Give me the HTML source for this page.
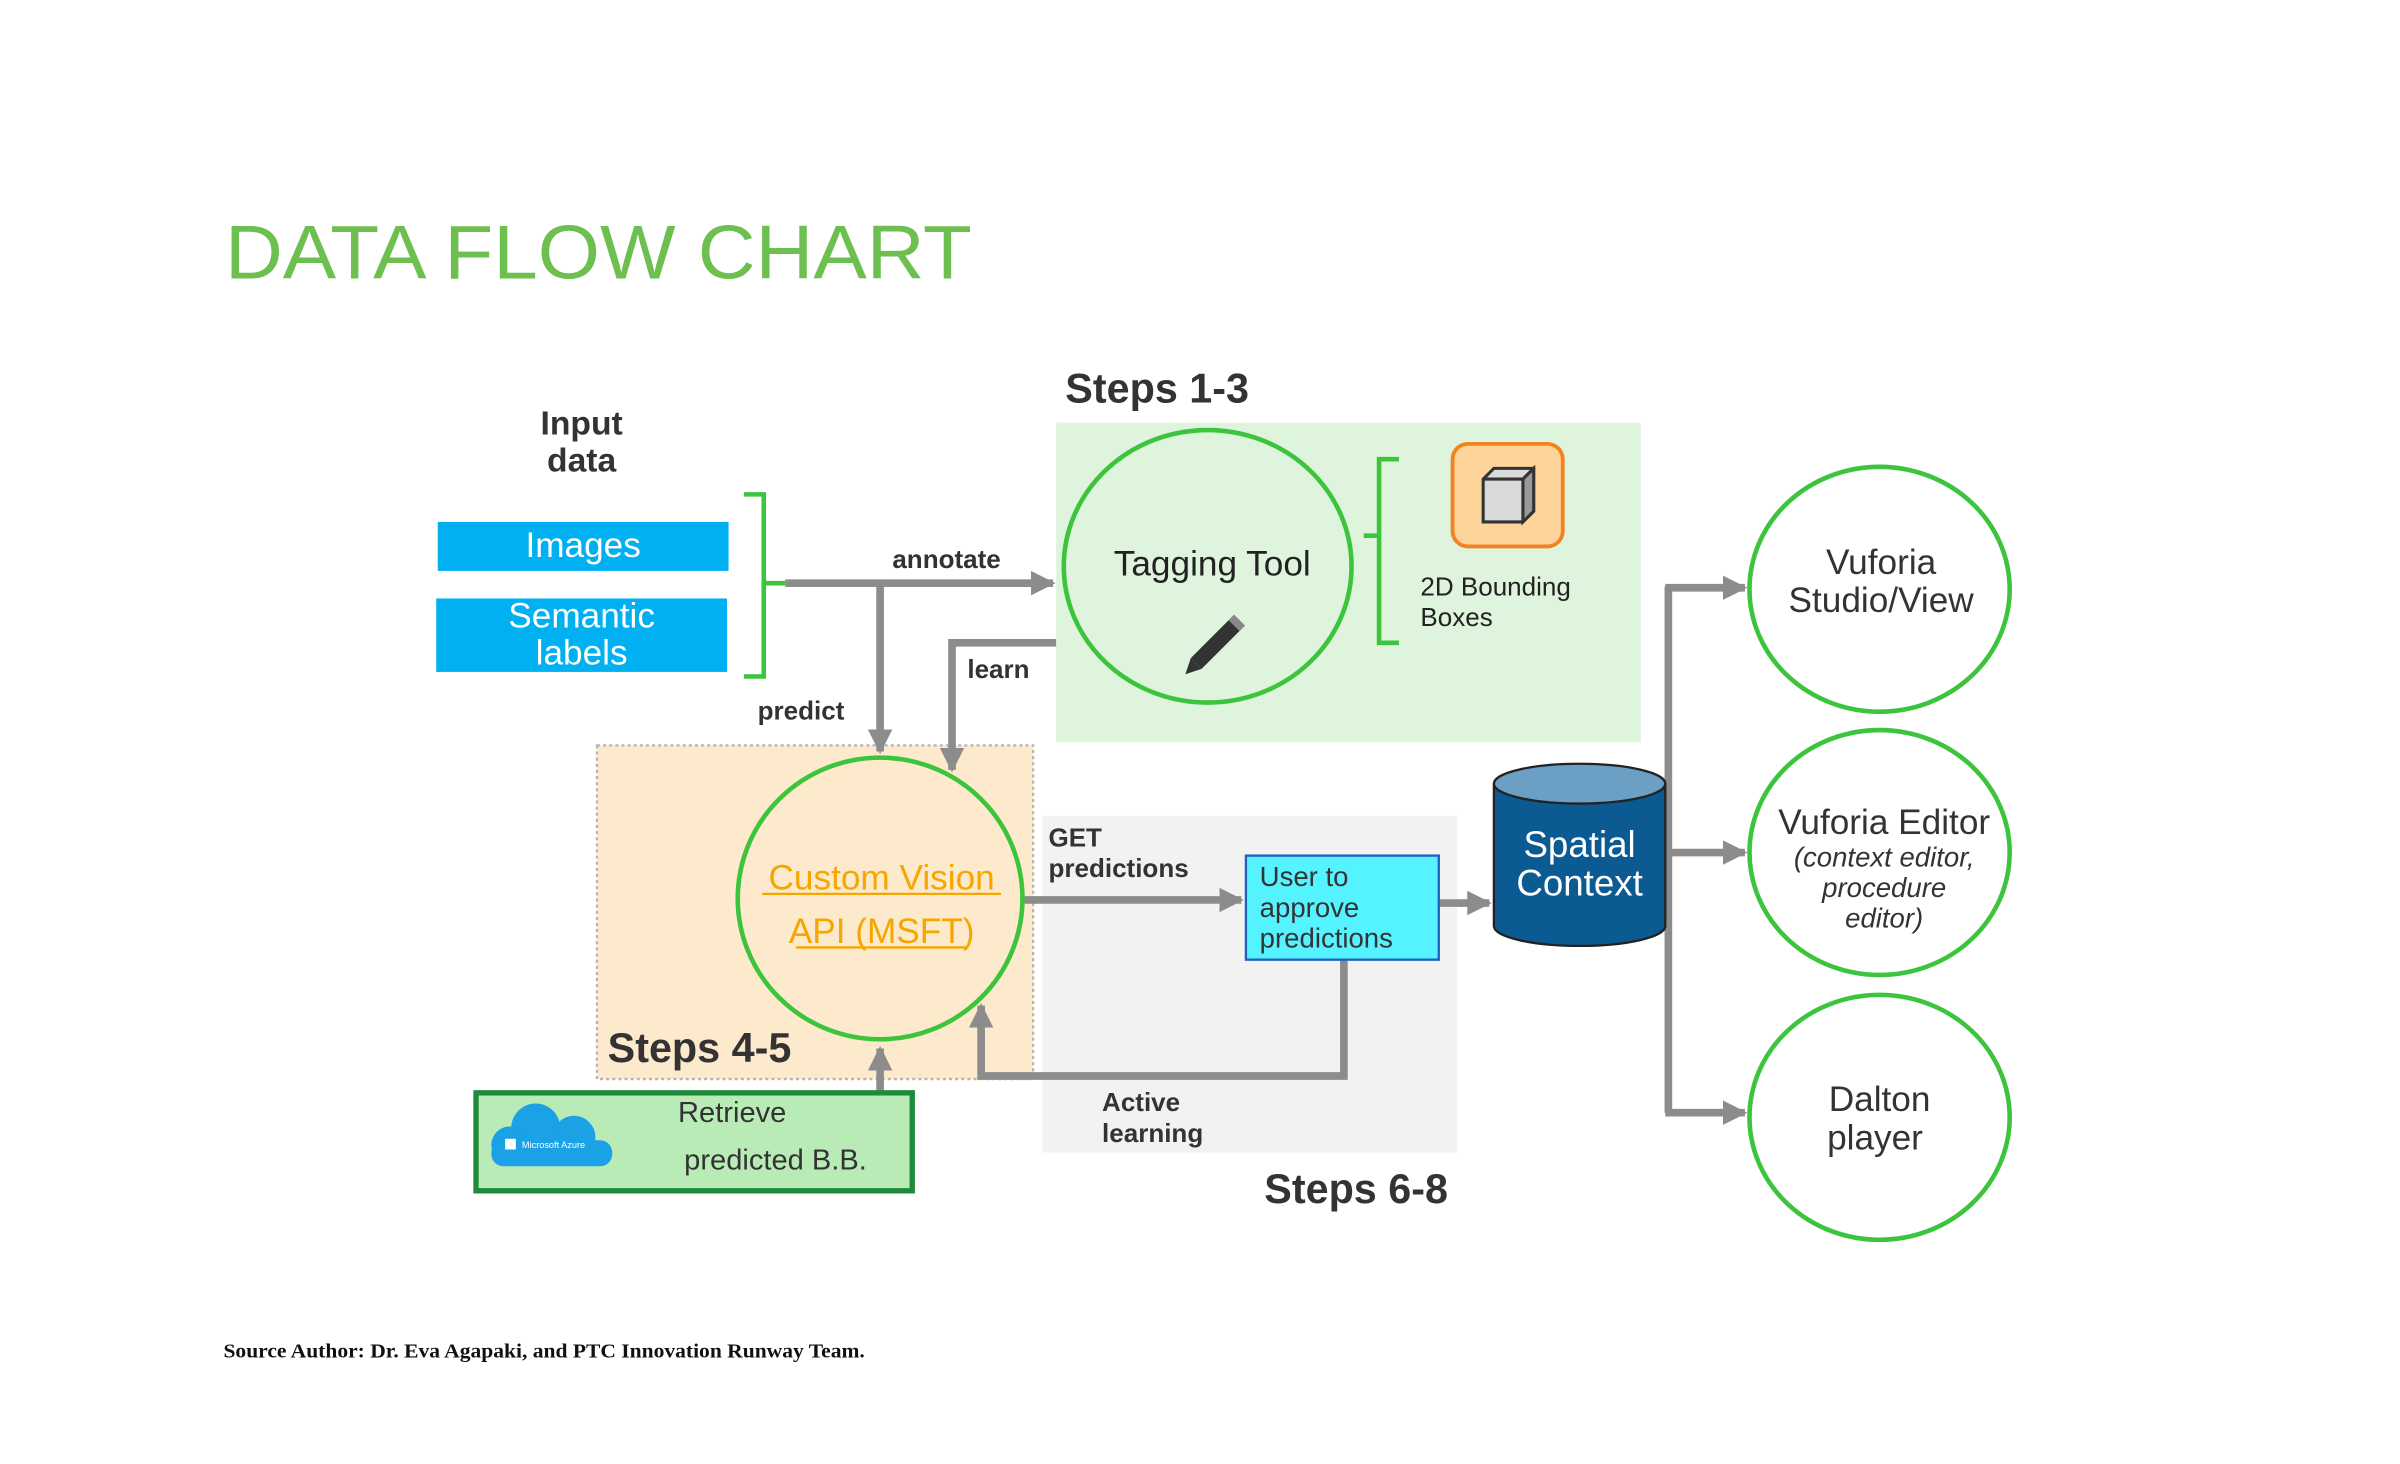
<!DOCTYPE html>
<html><head><meta charset="utf-8"><style>
html,body{margin:0;padding:0;background:#fff;}
svg{display:block;}
text{font-family:"Liberation Sans",sans-serif;}
</style></head><body>
<svg width="2400" height="1464" viewBox="0 0 1568 956.5" preserveAspectRatio="none" xmlns="http://www.w3.org/2000/svg">
<defs>
<marker id="ah" viewBox="0 0 10 10" refX="9" refY="5" markerWidth="3.2" markerHeight="3.2" orient="auto" markerUnits="strokeWidth"><path d="M0,0 L10,5 L0,10 z" fill="#8c8c8c"/></marker>
</defs>
<rect width="1568" height="957" fill="#fff"/>
<text x="147" y="182" font-size="50" fill="#6dbf4f" textLength="488" lengthAdjust="spacingAndGlyphs">DATA FLOW CHART</text>

<rect x="690" y="276" width="382" height="209" fill="#dff4dc"/>
<rect x="681" y="533" width="271" height="220" fill="#f2f2f2"/>
<rect x="390" y="487" width="285" height="218" fill="#fde9cc" stroke="#b5b5b5" stroke-width="1.5" stroke-dasharray="2,2"/>
<text x="696" y="263" font-size="27" font-weight="bold" fill="#333">Steps 1-3</text>
<text x="397" y="694" font-size="27" font-weight="bold" fill="#333">Steps 4-5</text>
<text x="826" y="786" font-size="27" font-weight="bold" fill="#333">Steps 6-8</text>

<text x="380" y="284" font-size="22" font-weight="bold" fill="#333" text-anchor="middle">Input</text>
<text x="380" y="308" font-size="22" font-weight="bold" fill="#333" text-anchor="middle">data</text>
<rect x="286" y="341" width="190" height="32" fill="#00b0f0"/>
<text x="381" y="364" font-size="23" fill="#fff" text-anchor="middle">Images</text>
<rect x="285" y="391" width="190" height="48" fill="#00b0f0"/>
<text x="380" y="410" font-size="23" fill="#fff" text-anchor="middle">Semantic</text>
<text x="380" y="434" font-size="23" fill="#fff" text-anchor="middle">labels</text>
<path d="M486,323 h13 v58 h14 M499,381 v61 h-13" fill="none" stroke="#3cc43c" stroke-width="3"/>

<g stroke="#8c8c8c" stroke-width="5" fill="none">
<path d="M513,381 H688" marker-end="url(#ah)"/>
<path d="M575,381 V491" marker-end="url(#ah)"/>
<path d="M690,420 H622 V503" marker-end="url(#ah)"/>
<path d="M669,588 H811" marker-end="url(#ah)"/>
<path d="M940,590 H973" marker-end="url(#ah)"/>
<path d="M878,627 V703 H641 V657" marker-end="url(#ah)"/>
<path d="M575,740 V685" marker-end="url(#ah)"/>
<path d="M575,740 H417" marker-end="url(#ah)"/>
<path d="M1090,383 V727"/>
<path d="M1088,384 H1140" marker-end="url(#ah)"/>
<path d="M1090,557 H1140" marker-end="url(#ah)"/>
<path d="M1088,727 H1140" marker-end="url(#ah)"/>
</g>
<text x="583" y="371" font-size="17" font-weight="bold" fill="#333">annotate</text>
<text x="495" y="470" font-size="17" font-weight="bold" fill="#333">predict</text>
<text x="632" y="443" font-size="17" font-weight="bold" fill="#333">learn</text>
<text x="685" y="553" font-size="17" font-weight="bold" fill="#333">GET</text>
<text x="685" y="573" font-size="17" font-weight="bold" fill="#333">predictions</text>
<text x="720" y="726" font-size="17" font-weight="bold" fill="#333">Active</text>
<text x="720" y="746" font-size="17" font-weight="bold" fill="#333">learning</text>

<ellipse cx="789" cy="370" rx="94" ry="89" fill="none" stroke="#3cc43c" stroke-width="3"/>
<text x="792" y="376" font-size="23" fill="#222" text-anchor="middle">Tagging Tool</text>
<g transform="translate(790,425) rotate(45)">
<rect x="-5" y="-28" width="10" height="40" fill="#333"/>
<path d="M-5,12 L0,22 L5,12 z" fill="#333"/>
<rect x="-5" y="-28" width="10" height="5" fill="#888"/>
</g>
<path d="M914,300 h-13 v50 h-10 M901,350 v70 h13" fill="none" stroke="#3cc43c" stroke-width="3"/>
<rect x="949" y="290" width="72" height="67" rx="10" fill="#fdd59a" stroke="#f58220" stroke-width="2.5"/>
<path d="M969,313 L976,306 H1002 V334 L995,341 H969 z" fill="#d9d9d9" stroke="#333" stroke-width="2"/>
<path d="M969,313 H995 V341 M995,313 L1002,306" fill="none" stroke="#333" stroke-width="2"/>
<path d="M995,313 L1002,306 V334 L995,341 z" fill="#999" stroke="#333" stroke-width="2"/>
<text x="928" y="389" font-size="17" fill="#222">2D Bounding</text>
<text x="928" y="409" font-size="17" fill="#222">Boxes</text>

<ellipse cx="575" cy="587" rx="93" ry="92" fill="#fde9cc" stroke="#3cc43c" stroke-width="3"/>
<text x="576" y="581" font-size="23" fill="#f5a700" text-anchor="middle">Custom Vision</text>
<text x="576" y="616" font-size="23" fill="#f5a700" text-anchor="middle">API (MSFT)</text>
<line x1="498" y1="584" x2="654" y2="584" stroke="#f5a700" stroke-width="1.5"/>
<line x1="520" y1="619" x2="632" y2="619" stroke="#f5a700" stroke-width="1.5"/>

<rect x="814" y="559" width="126" height="68" fill="#55f2ff" stroke="#1f5fbf" stroke-width="1.5"/>
<text x="823" y="579" font-size="18" fill="#333">User to</text>
<text x="823" y="599" font-size="18" fill="#333">approve</text>
<text x="823" y="619" font-size="18" fill="#333">predictions</text>

<rect x="311" y="714" width="285" height="64" fill="#b9ebb7" stroke="#1e8a3a" stroke-width="3.5"/>
<g fill="#1aa1e6">
<circle cx="350" cy="737" r="16"/>
<circle cx="333" cy="748" r="12"/>
<circle cx="375" cy="743" r="14"/>
<rect x="321" y="745" width="79" height="17" rx="8"/>
</g>
<rect x="330" y="744" width="7" height="7" fill="#fff"/>
<text x="341" y="750" font-size="6" fill="#fff">Microsoft Azure</text>
<text x="443" y="733" font-size="19" fill="#333">Retrieve</text>
<text x="447" y="764" font-size="19" fill="#333">predicted B.B.</text>

<path d="M976,512 V605 A56,13 0 0 0 1088,605 V512" fill="#0b5a92" stroke="#222" stroke-width="1.5"/>
<ellipse cx="1032" cy="512" rx="56" ry="13" fill="#6b9fc4" stroke="#222" stroke-width="1.5"/>
<text x="1032" y="560" font-size="24" fill="#fff" text-anchor="middle">Spatial</text>
<text x="1032" y="585" font-size="24" fill="#fff" text-anchor="middle">Context</text>

<g fill="#fff" stroke="#3cc43c" stroke-width="3">
<ellipse cx="1228" cy="385" rx="85" ry="80"/>
<ellipse cx="1228" cy="557" rx="85" ry="80"/>
<ellipse cx="1228" cy="730" rx="85" ry="80"/>
</g>
<g fill="#333" text-anchor="middle" font-size="23">
<text x="1229" y="375">Vuforia</text>
<text x="1229" y="400">Studio/View</text>
<text x="1231" y="545">Vuforia Editor</text>
<text x="1231" y="566" font-size="18" font-style="italic">(context editor,</text>
<text x="1231" y="586" font-size="18" font-style="italic">procedure</text>
<text x="1231" y="606" font-size="18" font-style="italic">editor)</text>
<text x="1228" y="726">Dalton</text>
<text x="1225" y="751">player</text>
</g>

<text x="146" y="887" font-size="13" font-weight="bold" fill="#111" textLength="419" lengthAdjust="spacingAndGlyphs" style="font-family:'Liberation Serif',serif">Source Author: Dr. Eva Agapaki, and PTC Innovation Runway Team.</text>
</svg>
</body></html>
